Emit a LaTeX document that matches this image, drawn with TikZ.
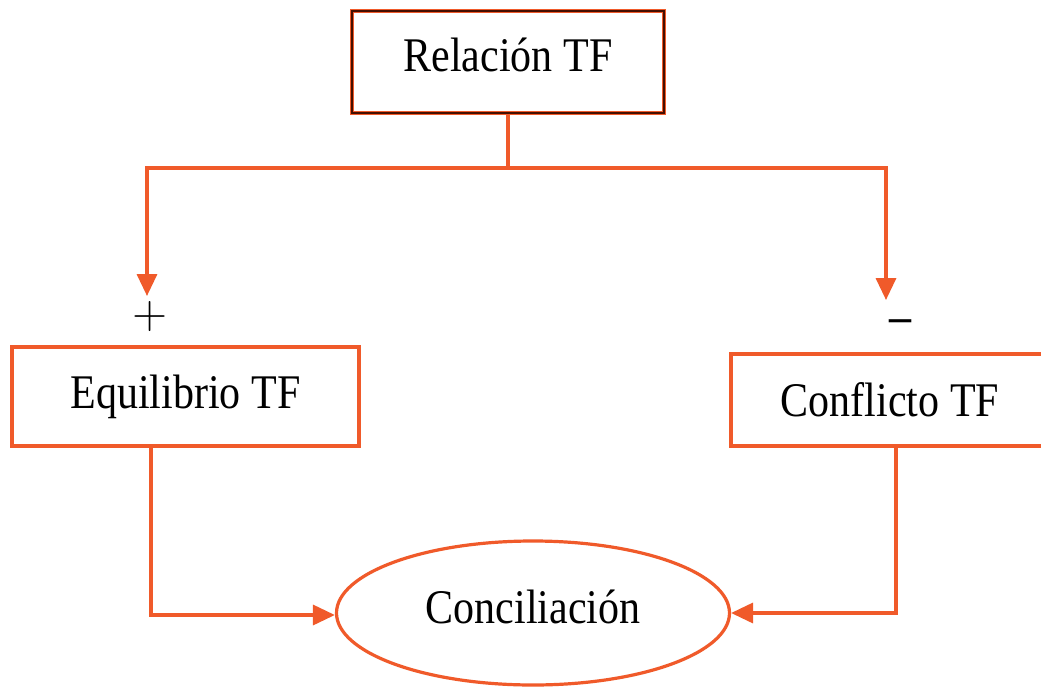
\documentclass[tikz,border=0pt]{standalone}
\usepackage{fontspec}
\setmainfont{Liberation Serif}
\usetikzlibrary{arrows.meta,shapes.geometric}

\definecolor{tfred}{RGB}{240,90,42}
\definecolor{tfdark}{RGB}{70,15,0}
\newcommand{\tall}[1]{\scalebox{1}[1.15]{#1}}

\tikzset{
  tfbox/.style={draw=tfred, line width=1.6pt, inner sep=0pt, font=\fontsize{21}{25}\selectfont},
  tfarrow/.style={draw=tfred, line width=1.7pt, -{Triangle[length=11pt,width=10pt]}},
  tfline/.style={draw=tfred, line width=1.7pt}
}

\begin{document}
\begin{tikzpicture}[x=0.5pt,y=-0.5pt]

\clip (0,0) rectangle (1041,687);
\fill[white] (0,0) rectangle (1041,687);

% boxes
\node[tfbox, draw=tfred, double=tfdark, line width=0.5pt, double distance=0.9pt,
      minimum width=156pt, minimum height=51pt] (rel) at (508,62) {\raisebox{7pt}{\tall{Relación TF}}};
\node[tfbox, minimum width=173.5pt, minimum height=49.5pt] (equ) at (185.5,396.5) {\raisebox{2pt}{\tall{Equilibrio TF}}};
\node[tfbox, minimum width=159pt, minimum height=46pt] (con) at (890,400) {\tall{Conflicto TF}};
% ellipse
\node[tfbox, ellipse, minimum width=196.5pt, minimum height=72pt] (conc) at (533,613) {\raisebox{6pt}{\tall{Conciliación}}};

% signs
\node[font=\fontsize{24}{24}\selectfont\sffamily] (plus) at (150,317) {+};
\node[font=\fontsize{22}{22}\selectfont\bfseries] (minus) at (900,326) {--};

% connectors
\coordinate (split) at (508,168);
\coordinate (lt) at (147,296);
\coordinate (rt) at (886,300);
\draw[tfline] (rel.south) -- (split);
\draw[tfarrow] (split) -| (lt);
\draw[tfarrow] (split) -| (rt);
\draw[tfarrow] ([xshift=-17.25pt]equ.south) |- ([yshift=-1pt]conc.west);
\draw[tfarrow] ([xshift=3pt]con.south) |- (conc.east);

\end{tikzpicture}
\end{document}
